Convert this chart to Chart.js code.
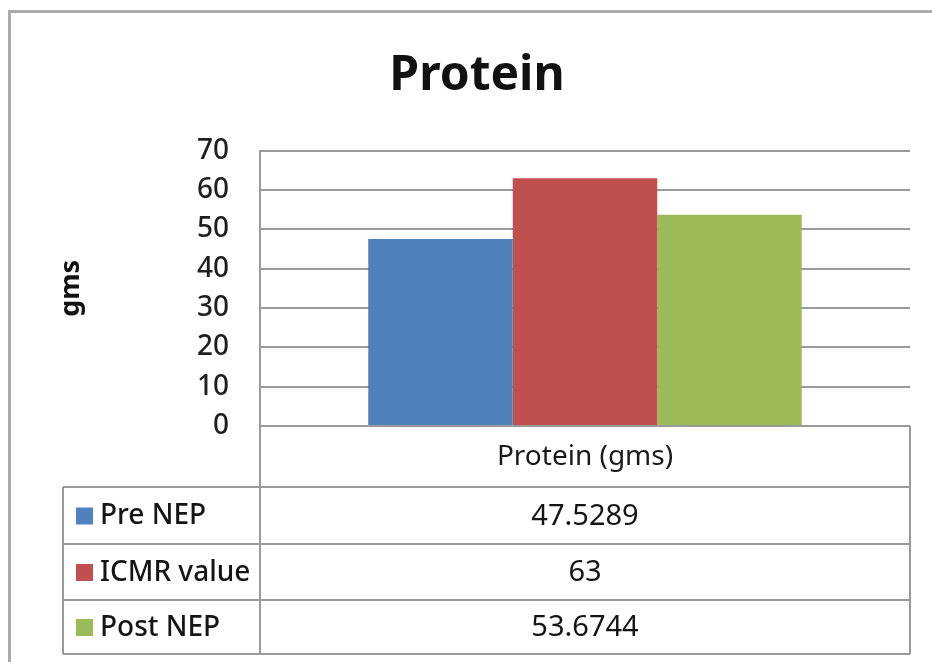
<!DOCTYPE html>
<html>
<head>
<meta charset="utf-8">
<script src="https://cdn.jsdelivr.net/npm/chart.js@4.4.0/dist/chart.umd.min.js"></script>
<style>
  html, body { margin: 0; padding: 0; background: #ffffff; overflow: hidden; width: 932px; height: 662px; }
  #wrap { width: 932px; height: 662px; position: relative; overflow: hidden; }
  canvas { display: block; }
</style>
</head>
<body>
<div id="wrap"><canvas id="chart" width="932" height="662"></canvas></div>
<script>
// Protein intake (gms) — one category, three series
const categories = ['Protein (gms)'];
const seriesNames = ['Pre NEP', 'ICMR value', 'Post NEP'];
const preNEP = [47.5289];
const icmrValue = [63];
const postNEP = [53.6744];
const yTicks = [0, 10, 20, 30, 40, 50, 60, 70];

const colors = ['#4f81bd', '#c0504d', '#9bbb59'];
const seriesValues = [preNEP, icmrValue, postNEP];
const FONT = "'Noto Sans', 'Open Sans', sans-serif";
const LINE = '#9a9a9a';

// Data table under the plot, plus the outer frame
const dataTablePlugin = {
  id: 'dataTable',
  afterDraw(chart) {
    const ctx = chart.ctx;
    const area = chart.chartArea;
    const xs = chart.scales.x;
    const left = area.left, right = area.right;
    const tableLeft = 63;
    const rows = [area.bottom, 487, 544, 600, 654];

    ctx.save();
    // blank right margin outside the plot/table
    ctx.fillStyle = '#ffffff';
    ctx.fillRect(right + 2, 13, chart.width - right - 2, chart.height - 13);

    // outer frame (top and left edges; the rest runs off the canvas)
    ctx.strokeStyle = '#ababab';
    ctx.lineWidth = 3;
    ctx.beginPath();
    ctx.moveTo(chart.width, 11.5);
    ctx.lineTo(9.5, 11.5);
    ctx.lineTo(9.5, chart.height);
    ctx.stroke();

    // table grid
    ctx.strokeStyle = LINE;
    ctx.lineWidth = 2;
    ctx.beginPath();
    ctx.moveTo(left, area.bottom); ctx.lineTo(right, area.bottom);
    for (let i = 1; i < rows.length; i++) {
      ctx.moveTo(tableLeft, rows[i]); ctx.lineTo(right, rows[i]);
    }
    ctx.moveTo(left, area.top); ctx.lineTo(left, rows[rows.length - 1]);
    ctx.moveTo(right, area.bottom); ctx.lineTo(right, rows[rows.length - 1]);
    ctx.moveTo(tableLeft, rows[1]); ctx.lineTo(tableLeft, rows[rows.length - 1]);
    ctx.stroke();

    // header: category name
    ctx.fillStyle = '#1a1a1a';
    ctx.textAlign = 'center';
    ctx.textBaseline = 'middle';
    ctx.font = '28px ' + FONT;
    categories.forEach((c, i) => {
      ctx.fillText(c, xs.getPixelForValue(i), (rows[0] + rows[1]) / 2 + 1);
    });

    // series rows
    chart.data.datasets.forEach((ds, r) => {
      const cy = (rows[r + 1] + rows[r + 2]) / 2;
      ctx.fillStyle = ds.backgroundColor;
      ctx.fillRect(76, cy - 8, 17, 17);
      ctx.fillStyle = '#151515';
      ctx.textAlign = 'left';
      ctx.font = '500 28px ' + FONT;
      ctx.fillText(ds.label, 100, cy + 1);
      ctx.textAlign = 'center';
      ctx.font = '29px ' + FONT;
      ds.data.forEach((v, i) => {
        ctx.fillText(String(v), xs.getPixelForValue(i), cy + 1);
      });
    });
    ctx.restore();
  }
};

new Chart(document.getElementById('chart'), {
  type: 'bar',
  data: {
    labels: categories,
    datasets: seriesNames.map((name, i) => ({
      label: name,
      data: seriesValues[i],
      backgroundColor: colors[i],
      borderWidth: 0,
      categoryPercentage: 0.667,
      barPercentage: 1.0
    }))
  },
  options: {
    responsive: false,
    animation: false,
    layout: { padding: { left: 44, right: 22, top: 0, bottom: 236 } },
    plugins: {
      legend: { display: false },
      tooltip: { enabled: false },
      title: {
        display: true,
        text: 'Protein',
        color: '#111111',
        font: { family: FONT, size: 48, weight: 'bold' },
        padding: { top: 48, bottom: 45 }
      }
    },
    scales: {
      x: { display: false },
      y: {
        min: 0,
        max: 70,
        afterBuildTicks(scale) { scale.ticks = yTicks.map(v => ({ value: v })); },
        afterFit(scale) { scale.width = 216; },
        ticks: {
          color: '#1e1e1e',
          padding: 31,
          font: { family: FONT, size: 28, weight: '500' }
        },
        grid: { color: LINE, lineWidth: 2, drawTicks: false },
        border: { display: true, color: LINE, width: 2 },
        title: {
          display: true,
          text: 'gms',
          color: '#111111',
          font: { family: FONT, size: 27, weight: 'bold' },
          padding: { top: 11, bottom: 0 }
        }
      }
    }
  },
  plugins: [dataTablePlugin]
});
</script>
</body>
</html>
